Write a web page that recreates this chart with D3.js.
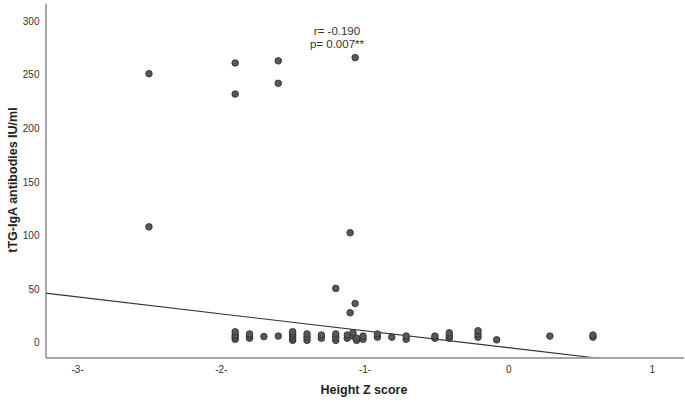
<!DOCTYPE html>
<html>
<head>
<meta charset="utf-8">
<script src="https://cdn.jsdelivr.net/npm/d3@7"></script>
<style>
  body { margin: 0; background: #fff; }
  svg text { font-family: "Liberation Sans", Arial, sans-serif; }
</style>
</head>
<body>
<svg id="chart" width="685" height="402"></svg>
<script>
// height z score (x) and tTG-IgA (y)
const zScore = [
  -2.50, -2.50, -1.90, -1.90, -1.60, -1.60, -1.065, -1.10, -1.20, -1.065, -1.10,
  -1.90, -1.90, -1.90, -1.90,
  -1.80, -1.80, -1.80,
  -1.70, -1.60,
  -1.50, -1.50, -1.50, -1.50, -1.50,
  -1.40, -1.40, -1.40,
  -1.30, -1.30,
  -1.20, -1.20, -1.20,
  -1.12, -1.12, -1.08, -1.08, -1.055, -1.055,
  -1.01, -1.01, -0.91, -0.91, -0.81, -0.71, -0.71,
  -0.51, -0.51, -0.41, -0.41, -0.41,
  -0.21, -0.21, -0.21, -0.08, 0.29, 0.59, 0.59
];
const antibodies = [
  251, 108, 261, 232, 263, 242, 266, 102.5, 50.5, 36.4, 27.8,
  3, 5, 7, 10,
  4, 6, 8,
  5.5, 6,
  2, 4, 6, 8, 10,
  2, 5, 8,
  4, 7,
  2, 5, 8,
  4, 7, 6, 9, 2, 4,
  3, 6, 5, 8, 5, 3, 6,
  4, 6, 4, 6, 9,
  5, 8, 11, 2.5, 6, 5, 7
];

// linear fit line as drawn
const fitIntercept = -4.8;
const fitSlope = -15.8;

const xTicks = [-3, -2, -1, 0, 1];
const xTickLabels = ["-3-", "-2-", "-1-", "0", "1"];
const yTicks = [0, 50, 100, 150, 200, 250, 300];
const statLines = ["r= -0.190", "p= 0.007**"];

const svg = d3.select("#chart");

let x = d3.scaleLinear().domain([-3.22, 1.22]).range([45.5, 683.5]);
let y = d3.scaleLinear().domain([-14, 317]).range([357.5, 3]);

svg.append("defs").append("clipPath").attr("id", "plotClip")
    .append("rect")
    .attr("x", x.range()[0]).attr("y", y.range()[1])
    .attr("width", x.range()[1] - x.range()[0])
    .attr("height", y.range()[0] - y.range()[1]);

// fit line
let xd = x.domain();
svg.append("line")
    .attr("clip-path", "url(#plotClip)")
    .attr("x1", x(xd[0])).attr("y1", y(fitIntercept + fitSlope * xd[0]))
    .attr("x2", x(xd[1])).attr("y2", y(fitIntercept + fitSlope * xd[1]))
    .attr("stroke", "#333").attr("stroke-width", 1.1);

// points
let pts = zScore.map((d, i) => ({x: d, y: antibodies[i]}));
svg.append("g").selectAll("circle").data(pts).enter().append("circle")
    .attr("cx", d => x(d.x))
    .attr("cy", d => y(d.y))
    .attr("r", 3.3)
    .attr("fill", "#585858")
    .attr("stroke", "#2a2a2a")
    .attr("stroke-width", 0.8);

// axes
let yAxis = svg.append("g")
    .attr("transform", `translate(${x.range()[0]},0)`)
    .call(d3.axisLeft(y).tickValues(yTicks).tickSize(0).tickPadding(6).tickSizeOuter(0));
let xAxis = svg.append("g")
    .attr("transform", `translate(0,${y.range()[0]})`)
    .call(d3.axisBottom(x).tickValues(xTicks).tickSize(0).tickPadding(8).tickSizeOuter(0)
        .tickFormat((d, i) => xTickLabels[i]));

[xAxis, yAxis].forEach(a => {
    a.select(".domain").attr("stroke", "#8a8a8a").attr("stroke-width", 1.5);
    a.selectAll("text").attr("fill", "#333").style("font-size", "10px");
});

// axis titles
svg.append("text")
    .attr("x", 364).attr("y", 394)
    .attr("text-anchor", "middle")
    .style("font-size", "12.5px").style("font-weight", "bold").attr("fill", "#222")
    .text("Height Z score");
svg.append("text")
    .attr("transform", "translate(17,180) rotate(-90)")
    .attr("text-anchor", "middle")
    .style("font-size", "12.5px").style("font-weight", "bold").attr("fill", "#222")
    .text("tTG-IgA antibodies IU/ml");

// correlation text
svg.append("g").selectAll("text").data(statLines).enter().append("text")
    .attr("x", 337).attr("y", (d, i) => 35 + i * 12.5)
    .attr("text-anchor", "middle")
    .style("font-size", "11.5px").attr("fill", "#333")
    .text(d => d);
</script>
</body>
</html>
